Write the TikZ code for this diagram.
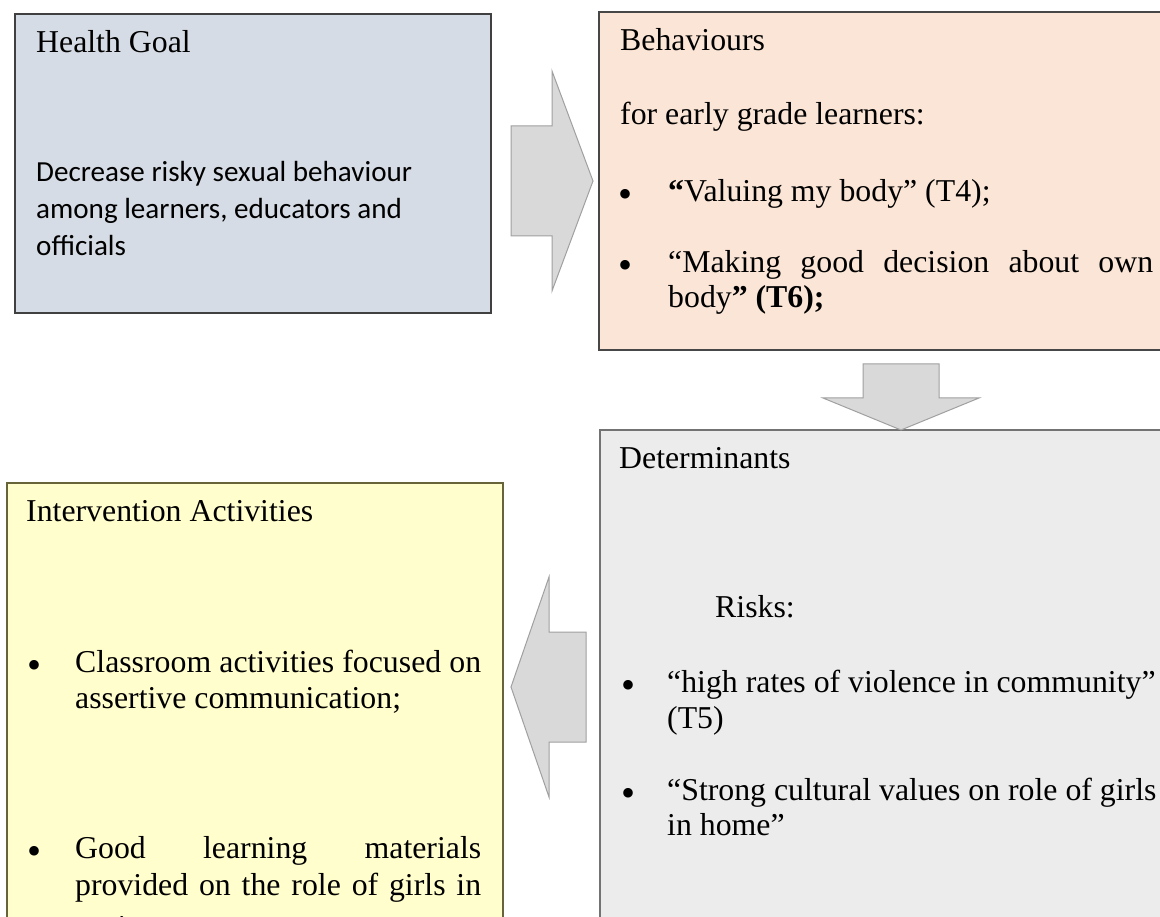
\documentclass[tikz,border=0pt]{standalone}
\usepackage{fontspec}
\setmainfont{Liberation Serif}
\newfontfamily\calibri{Carlito}
\usepackage{tikz}
\usetikzlibrary{calc}
\usetikzlibrary{positioning}
\definecolor{goalfill}{RGB}{214, 220, 229}
\definecolor{behavfill}{RGB}{251, 229, 214}
\definecolor{detfill}{RGB}{236, 236, 236}
\definecolor{interfill}{RGB}{255, 254, 204}
\definecolor{arrowfill}{RGB}{217, 217, 217}
\definecolor{arrowline}{RGB}{160, 160, 160}

\tikzset{
  box/.style={rectangle, anchor=north west, inner sep=0, outer sep=0, line width=1.8pt},
  txt/.style={anchor=base west, inner sep=0, font=\fontsize{31.8}{38}\selectfont},
  sans/.style={anchor=base west, inner sep=0, font=\calibri\fontsize{29.1}{37}\selectfont},
  dot/.style={anchor=base, inner sep=0, yshift=-6pt, font=\fontsize{40}{38}\selectfont},
  blockarrow/.style={fill=arrowfill, draw=arrowline, line width=1pt, line join=miter}
}

\begin{document}
\begin{tikzpicture}[x=1pt, y=-1pt]
            \useasboundingbox (0,0) rectangle (1160,917);
            \fill[white] (0,0) rectangle (1160,917);
            \clip (0,0) rectangle (1160,917);

            % boxes
            \node[box, draw=black!75, fill=goalfill,  minimum width=476, minimum height=299] (goal)  at (15,14)  {};
            \node[box, draw=black!72, fill=behavfill, minimum width=620, minimum height=338] (behav) at (599,12) {};
            \node[box, draw=black!55, fill=detfill,   minimum width=620, minimum height=560] (det)   at (600,430) {};
            \node[box, draw=black!50!olive!90, fill=interfill, minimum width=496, minimum height=520] (inter) at (7,483) {};

            % block arrows
            \coordinate (t1) at ($(goal.east |- behav.west)+(20,0)$);
            \coordinate (t2) at ($(det.north west)+(301.5,-66)$);
            \coordinate (t3) at ($(inter.north east)+(83,204)$);
            \filldraw[blockarrow] (t1) ++(0,-55) -- ++(41,0) -- ++(0,-55) -- ++(41,110)
                 -- ++(-41,110) -- ++(0,-55) -- ++(-41,0) -- cycle;
            \filldraw[blockarrow] (t2) ++(-38.5,0) -- ++(0,34) -- ++(-40,0) -- ++(78,32)
                 -- ++(78,-32) -- ++(-40,0) -- ++(0,-34) -- cycle;
            \filldraw[blockarrow] (t3) ++(0,-55) -- ++(-37,0) -- ++(0,-55) -- ++(-38,110)
                 -- ++(38,110) -- ++(0,-55) -- ++(37,0) -- cycle;

            % health goal
            \node[txt]  (gt)  at (36,53)  {Health Goal};
            \node[sans] (gl1) at (36,182) {Decrease risky sexual behaviour};
            \node[sans] (gl2) at (36,219) {among learners, educators and};
            \node[sans] (gl3) at (36,256) {officials};

            % behaviours
            \node[txt] (bt)  at (620,51)  {Behaviours};
            \node[txt] (bs)  at (620,125) {for early grade learners:};
            \node[dot] (bd1) at (625,202) {\textbullet};
            \node[txt] (bi1) at (668,202) {\textbf{“}Valuing my body” (T4);};
            \node[dot] (bd2) at (625,273) {\textbullet};
            \node[txt] (bi2) at (668,273) {\makebox[485pt][s]{“Making good decision about own}};
            \node[txt] (bi3) at (668,308) {body\textbf{” (T6);}};

            % determinants
            \node[txt] (dt)  at (619,468) {Determinants};
            \node[txt] (dr)  at (715,617) {Risks:};
            \node[dot] (dd1) at (628,692) {\textbullet};
            \node[txt] (di1) at (667,692) {“high rates of violence in community”};
            \node[txt] (di2) at (667,728) {(T5)};
            \node[dot] (dd2) at (628,800) {\textbullet};
            \node[txt] (di3) at (667,800) {“Strong cultural values on role of girls};
            \node[txt] (di4) at (667,835) {in home”};

            % intervention activities
            \node[txt] (it)  at (26,521) {Intervention Activities};
            \node[dot] (id1) at (35,672) {\textbullet};
            \node[txt] (ii1) at (75,672) {\makebox[406pt][s]{Classroom activities focused on}};
            \node[txt] (ii2) at (75,708) {assertive communication;};
            \node[dot] (id2) at (35,858) {\textbullet};
            \node[txt] (ii3) at (75,858) {\makebox[406pt][s]{Good learning materials}};
            \node[txt] (ii4) at (75,895) {\makebox[406pt][s]{provided on the role of girls in}};
            \node[txt] (ii5) at (75,937) {society.};
        \end{tikzpicture}
\end{document}
